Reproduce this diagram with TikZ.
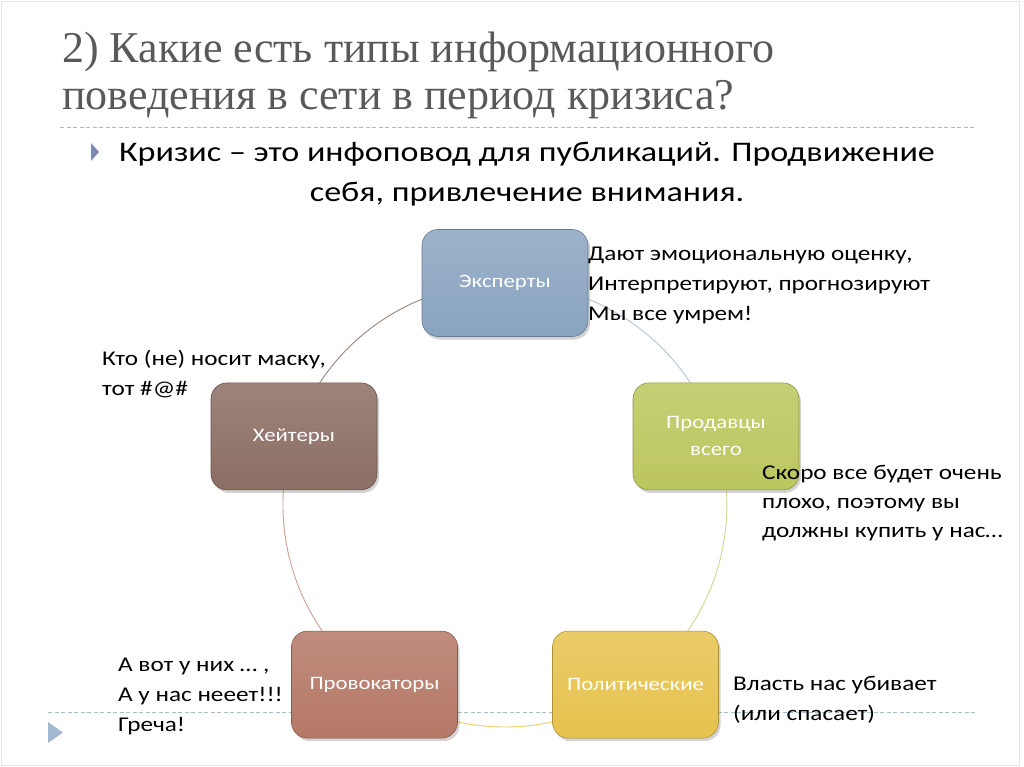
\documentclass[tikz,border=0pt]{standalone}
\usepackage{fontspec}
\setmainfont{Carlito}[FakeStretch=1.2]
\newfontfamily\titlefont{Liberation Serif}
\usetikzlibrary{shadows,backgrounds}
\definecolor{titlegray}{HTML}{595959}
\definecolor{rulegray}{HTML}{A9BCCD}
\definecolor{bulletblue}{HTML}{7F89B5}
\definecolor{markblue}{HTML}{A3B9D1}
\definecolor{expblue}{HTML}{8AA4C0}
\definecolor{sellgreen}{HTML}{BCC65E}
\definecolor{hatebrown}{HTML}{8B6E64}
\definecolor{provred}{HTML}{B57867}
\definecolor{polgold}{HTML}{E6C24E}

\begin{document}
\begin{tikzpicture}[x=1pt,y=-1pt,
  stage/.style={rectangle,rounded corners=16pt,draw=#1!75!black,line width=0.6pt,
    top color=#1!85!white,bottom color=#1,
    minimum width=166pt,minimum height=107pt,align=center,
    text=white,font=\fontsize{19}{27}\selectfont,
    drop shadow={opacity=0.35,shadow xshift=2pt,shadow yshift=-3pt}},
  ring/.style={line width=0.9pt,draw=#1},
  note/.style={anchor=base west,inner sep=0pt,align=left,
    font=\fontsize{21}{30}\selectfont},
  rule/.style={rulegray,line width=0.9pt,dash pattern=on 4pt off 2.5pt}]

  \useasboundingbox (0,0) rectangle (1024,767);
  \draw[black!10] (1.5,1.5) rectangle (1019,765.5);

  % title
  \node[anchor=base west,inner sep=0pt,text=titlegray,font=\titlefont\fontsize{44}{46}\selectfont]
    (title1) at (62,63) {2) Какие есть типы информационного};
  \node[anchor=base west,inner sep=0pt,text=titlegray,font=\titlefont\fontsize{44}{46}\selectfont]
    (title2) at (62,110) {поведения в сети в период кризиса?};
  \draw[rule] (60,127) -- (975,127);
  \draw[rule] (48,712) -- (975,712);
  \fill[markblue] (48,722) -- (63,732.5) -- (48,743) -- cycle;

  % lead
  \fill[bulletblue] (91,143) -- (99,152) -- (91,161) -- cycle;
  \node[anchor=base,inner sep=0pt,align=center,font=\fontsize{28.4}{40}\selectfont]
    (lead) at (527,202) {Кризис – это инфоповод для публикаций. Продвижение\\себя, привлечение внимания.};

  % cycle, centre (505,505), radius 222
  \node[stage=expblue] (experts) at (505,283) {Эксперты};
  \node[stage=sellgreen] (sellers) at (716,436.4) {Продавцы\\всего};
  \node[stage=polgold] (politic) at (635.5,684.6) {Политические};
  \node[stage=provred] (provoc) at (374.5,684.6) {Провокаторы};
  \node[stage=hatebrown] (haters) at (294,436.4) {Хейтеры};

  \begin{scope}[on background layer]
    \draw[ring=expblue!65!white] (experts.center) arc[start angle=-90,end angle=-18,radius=222];
    \draw[ring=sellgreen!70!white] (sellers.center) arc[start angle=-18,end angle=54,radius=222];
    \draw[ring=polgold!85!white] (politic.center) arc[start angle=54,end angle=126,radius=222];
    \draw[ring=provred!70!white] (provoc.center) arc[start angle=126,end angle=198,radius=222];
    \draw[ring=hatebrown!85!white] (haters.center) arc[start angle=198,end angle=270,radius=222];
  \end{scope}

  % notes
  \node[note] (expnote) at (588,320) {Дают эмоциональную оценку,\\Интерпретируют, прогнозируют\\Мы все умрем!};
  \node[note,font=\fontsize{21}{29}\selectfont] (sellnote) at (762,537) {Скоро все будет очень\\плохо, поэтому вы\\должны купить у нас…};
  \node[note] (polnote) at (733,720) {Власть нас убивает\\(или спасает)};
  \node[note] (provnote) at (118,731) {А вот у них … ,\\А у нас нееет!!!\\Греча!};
  \node[note] (hatenote) at (102,395) {Кто (не) носит маску,\\тот \#@\#};
\end{tikzpicture}
\end{document}
